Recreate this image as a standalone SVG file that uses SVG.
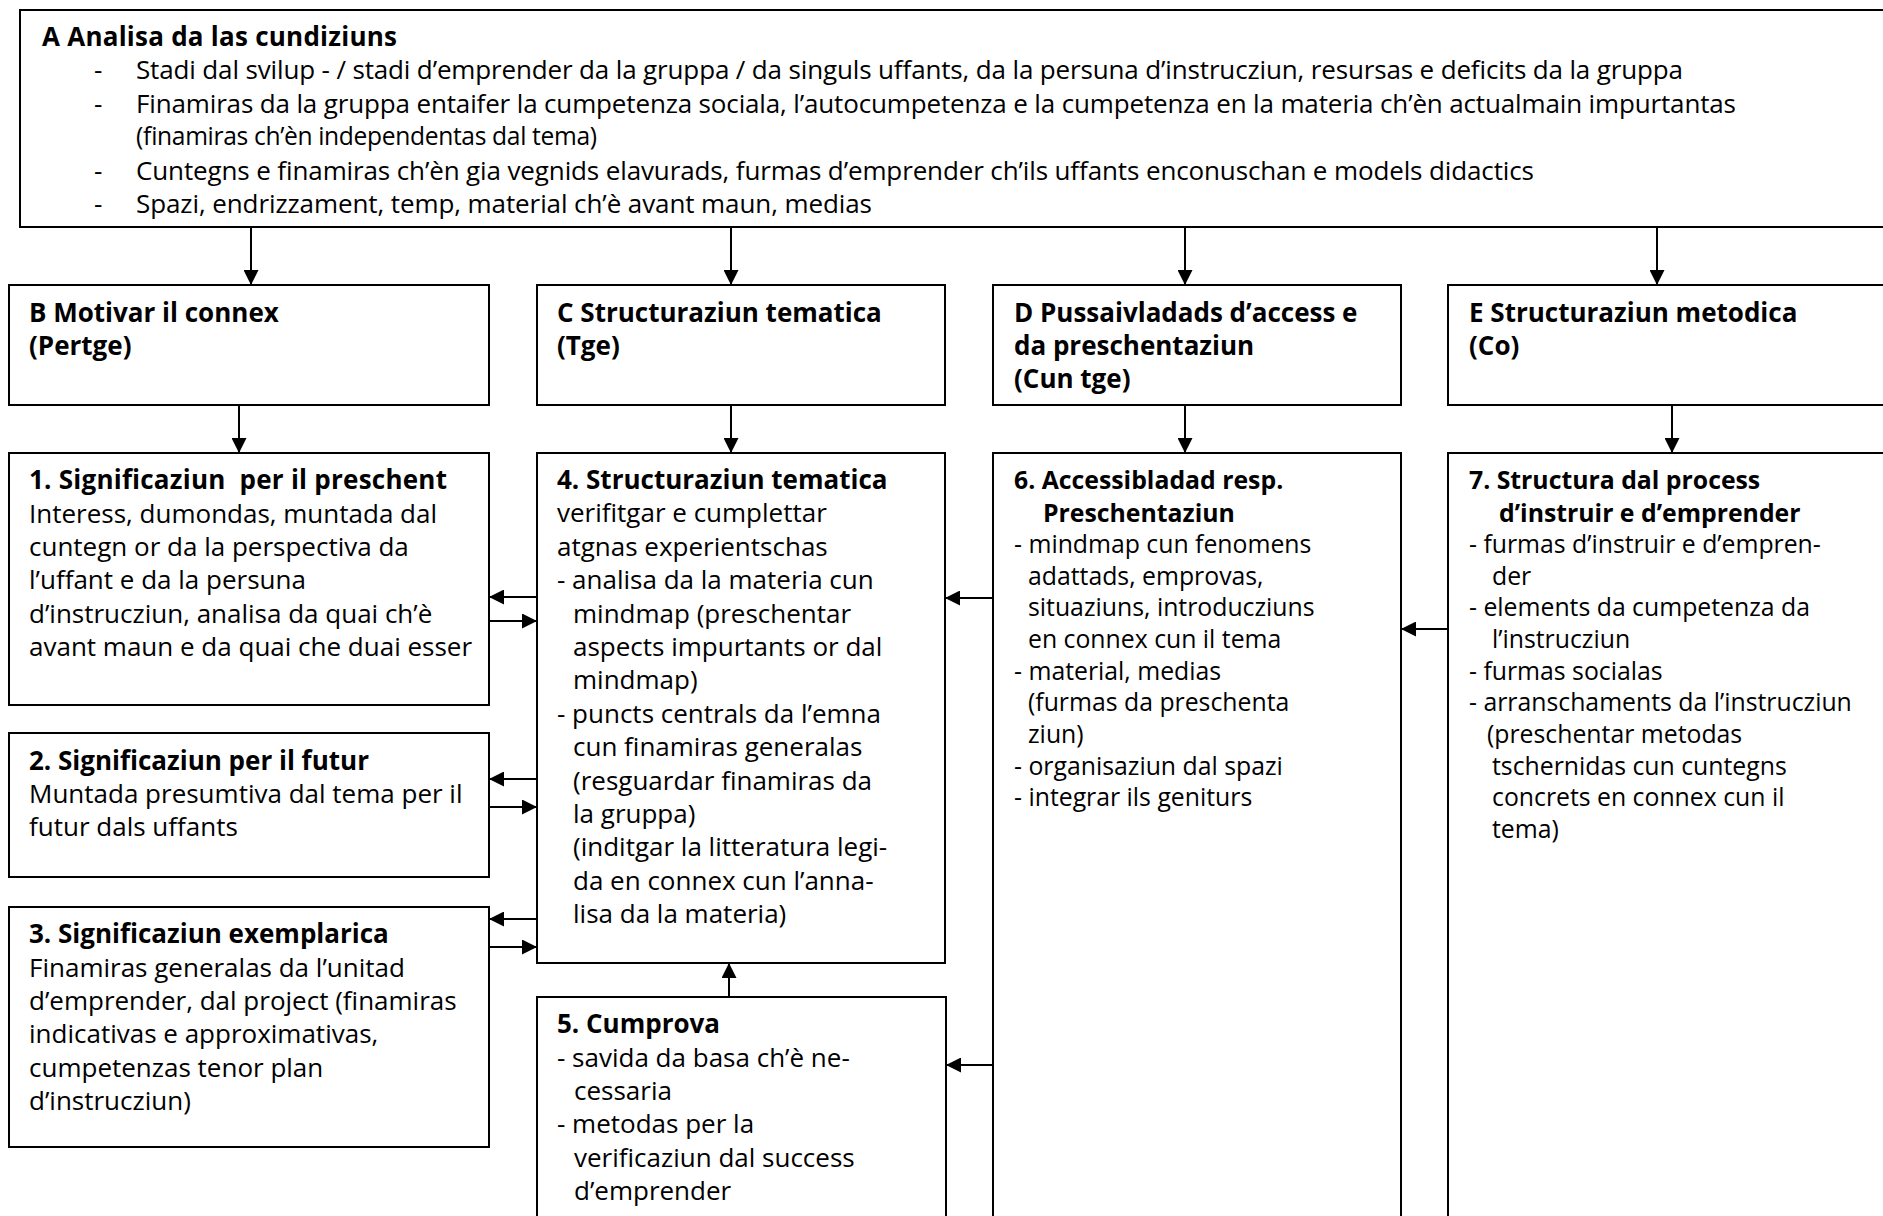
<svg xmlns="http://www.w3.org/2000/svg" width="1883" height="1216" viewBox="0 0 1883 1216">
<defs>
<style>
.box{fill:#fff;stroke:#000;stroke-width:2}
.t{font-family:"Open Sans","Noto Sans","Liberation Sans",sans-serif;font-size:26px;fill:#000}
.s{font-size:24.8px}
.b{font-weight:bold}
.c{fill:none;stroke:#000;stroke-width:2}
</style>
<marker id="ah" markerUnits="userSpaceOnUse" viewBox="0 0 15 15" markerWidth="15" markerHeight="15" refX="15" refY="7.5" orient="auto">
<path d="M0,0 L15,7.5 L0,15 z" fill="#000"/>
</marker>
</defs>
<rect width="1883" height="1216" fill="#fff"/>

<g id="nodeA">
<rect class="box" x="20" y="10" width="1880" height="217"/>
<text class="t b" x="42" y="46" textLength="355">A Analisa da las cundiziuns</text>
<text class="t" x="94" y="79">-</text>
<text class="t" x="136" y="79" textLength="1547">Stadi dal svilup - / stadi d’emprender da la gruppa / da singuls uffants, da la persuna d’instrucziun, resursas e deficits da la gruppa</text>
<text class="t" x="94" y="113">-</text>
<text class="t" x="136" y="113" textLength="1600">Finamiras da la gruppa entaifer la cumpetenza sociala, l’autocumpetenza e la cumpetenza en la materia ch’èn actualmain impurtantas</text>
<text class="t" x="136" y="145" style="font-size:24.6px" textLength="461">(finamiras ch’èn independentas dal tema)</text>
<text class="t" x="94" y="180">-</text>
<text class="t" x="136" y="180" textLength="1398">Cuntegns e finamiras ch’èn gia vegnids elavurads, furmas d’emprender ch’ils uffants enconuschan e models didactics</text>
<text class="t" x="94" y="213">-</text>
<text class="t" x="136" y="213" textLength="736">Spazi, endrizzament, temp, material ch’è avant maun, medias</text>
</g>

<g id="nodeB">
<rect class="box" x="9" y="285" width="480" height="120"/>
<text class="t b" x="29" y="322">B Motivar il connex</text>
<text class="t b" x="29" y="355">(Pertge)</text>
</g>

<g id="nodeC">
<rect class="box" x="537" y="285" width="408" height="120"/>
<text class="t b" x="557" y="322">C Structuraziun tematica</text>
<text class="t b" x="557" y="355">(Tge)</text>
</g>

<g id="nodeD">
<rect class="box" x="993" y="285" width="408" height="120"/>
<text class="t b" x="1014" y="322">D Pussaivladads d’access e</text>
<text class="t b" x="1014" y="355">da preschentaziun</text>
<text class="t b" x="1014" y="388">(Cun tge)</text>
</g>

<g id="nodeE">
<rect class="box" x="1448" y="285" width="450" height="120"/>
<text class="t b" x="1469" y="322">E Structuraziun metodica</text>
<text class="t b" x="1469" y="355">(Co)</text>
</g>

<g id="node1">
<rect class="box" x="9" y="453" width="480" height="252"/>
<text class="t b" x="29" y="489" xml:space="preserve" textLength="418">1. Significaziun  per il preschent</text>
<text class="t" x="29" y="523">Interess, dumondas, muntada dal</text>
<text class="t" x="29" y="556">cuntegn or da la perspectiva da</text>
<text class="t" x="29" y="589">l’uffant e da la persuna</text>
<text class="t" x="29" y="623">d’instrucziun, analisa da quai ch’è</text>
<text class="t" x="29" y="656">avant maun e da quai che duai esser</text>
</g>

<g id="node2">
<rect class="box" x="9" y="733" width="480" height="144"/>
<text class="t b" x="29" y="770">2. Significaziun per il futur</text>
<text class="t" x="29" y="803">Muntada presumtiva dal tema per il</text>
<text class="t" x="29" y="836">futur dals uffants</text>
</g>

<g id="node3">
<rect class="box" x="9" y="907" width="480" height="240"/>
<text class="t b" x="29" y="943">3. Significaziun exemplarica</text>
<text class="t" x="29" y="977">Finamiras generalas da l’unitad</text>
<text class="t" x="29" y="1010">d’emprender, dal project (finamiras</text>
<text class="t" x="29" y="1043">indicativas e approximativas,</text>
<text class="t" x="29" y="1077">cumpetenzas tenor plan</text>
<text class="t" x="29" y="1110">d’instrucziun)</text>
</g>

<g id="node4">
<rect class="box" x="537" y="453" width="408" height="510"/>
<text class="t b" x="557" y="489">4. Structuraziun tematica</text>
<text class="t" x="557" y="522">verifitgar e cumplettar</text>
<text class="t" x="557" y="556">atgnas experientschas</text>
<text class="t" x="557" y="589">- analisa da la materia cun</text>
<text class="t" x="573" y="623">mindmap (preschentar</text>
<text class="t" x="573" y="656">aspects impurtants or dal</text>
<text class="t" x="573" y="689">mindmap)</text>
<text class="t" x="557" y="723">- puncts centrals da l’emna</text>
<text class="t" x="573" y="756">cun finamiras generalas</text>
<text class="t" x="573" y="790">(resguardar finamiras da</text>
<text class="t" x="573" y="823">la gruppa)</text>
<text class="t" x="573" y="856">(inditgar la litteratura legi-</text>
<text class="t" x="573" y="890">da en connex cun l’anna-</text>
<text class="t" x="573" y="923">lisa da la materia)</text>
</g>

<g id="node5">
<rect class="box" x="537" y="997" width="409" height="240"/>
<text class="t b" x="557" y="1033">5. Cumprova</text>
<text class="t" x="557" y="1067">- savida da basa ch’è ne-</text>
<text class="t" x="574" y="1100">cessaria</text>
<text class="t" x="557" y="1133">- metodas per la</text>
<text class="t" x="574" y="1167">verificaziun dal success</text>
<text class="t" x="574" y="1200">d’emprender</text>
</g>

<g id="node6">
<rect class="box" x="993" y="453" width="408" height="790"/>
<text class="t s b" x="1014" y="489">6. Accessibladad resp.</text>
<text class="t s b" x="1043" y="522">Preschentaziun</text>
<text class="t s" x="1014" y="553">- mindmap cun fenomens</text>
<text class="t s" x="1028" y="585">adattads, emprovas,</text>
<text class="t s" x="1028" y="616">situaziuns, introducziuns</text>
<text class="t s" x="1028" y="648">en connex cun il tema</text>
<text class="t s" x="1014" y="680">- material, medias</text>
<text class="t s" x="1028" y="711">(furmas da preschenta</text>
<text class="t s" x="1028" y="743">ziun)</text>
<text class="t s" x="1014" y="775">- organisaziun dal spazi</text>
<text class="t s" x="1014" y="806">- integrar ils geniturs</text>
</g>

<g id="node7">
<rect class="box" x="1448" y="453" width="450" height="790"/>
<text class="t s b" x="1469" y="489">7. Structura dal process</text>
<text class="t s b" x="1499" y="522">d’instruir e d’emprender</text>
<text class="t s" x="1469" y="553">- furmas d’instruir e d’empren-</text>
<text class="t s" x="1492" y="585">der</text>
<text class="t s" x="1469" y="616">- elements da cumpetenza da</text>
<text class="t s" x="1492" y="648">l’instrucziun</text>
<text class="t s" x="1469" y="680">- furmas socialas</text>
<text class="t s" x="1469" y="711">- arranschaments da l’instrucziun</text>
<text class="t s" x="1487" y="743">(preschentar metodas</text>
<text class="t s" x="1492" y="775">tschernidas cun cuntegns</text>
<text class="t s" x="1492" y="806">concrets en connex cun il</text>
<text class="t s" x="1492" y="838">tema)</text>
</g>

<g id="connectors">
<path class="c" marker-end="url(#ah)" d="M251,228 V285"/>
<path class="c" marker-end="url(#ah)" d="M731,228 V285"/>
<path class="c" marker-end="url(#ah)" d="M1185,228 V285"/>
<path class="c" marker-end="url(#ah)" d="M1657,228 V285"/>
<path class="c" marker-end="url(#ah)" d="M239,406 V453"/>
<path class="c" marker-end="url(#ah)" d="M731,406 V453"/>
<path class="c" marker-end="url(#ah)" d="M1185,406 V453"/>
<path class="c" marker-end="url(#ah)" d="M1672,406 V453"/>
<path class="c" marker-end="url(#ah)" d="M537,597 H489"/>
<path class="c" marker-end="url(#ah)" d="M489,621 H537"/>
<path class="c" marker-end="url(#ah)" d="M537,779 H489"/>
<path class="c" marker-end="url(#ah)" d="M489,807 H537"/>
<path class="c" marker-end="url(#ah)" d="M537,919 H489"/>
<path class="c" marker-end="url(#ah)" d="M489,947 H537"/>
<path class="c" marker-end="url(#ah)" d="M729,997 V963"/>
<path class="c" marker-end="url(#ah)" d="M993,598 H945"/>
<path class="c" marker-end="url(#ah)" d="M993,1065 H946"/>
<path class="c" marker-end="url(#ah)" d="M1448,629 H1401"/>
</g>
</svg>
